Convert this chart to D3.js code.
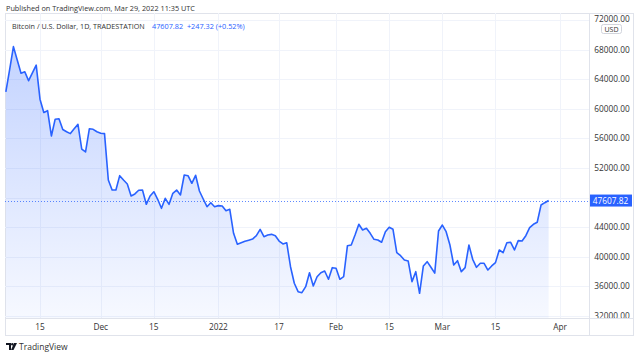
<!DOCTYPE html>
<html><head><meta charset="utf-8">
<script src="https://cdn.jsdelivr.net/npm/d3@7"></script>
<style>
html,body{margin:0;padding:0;background:#fff;}
svg{display:block;font-family:"Open Sans","Noto Sans",sans-serif;}
</style></head>
<body>
<svg id="chart" width="640" height="358"></svg>
<script>
// ---- data ----
const startDate = "2021-11-06";
const closes = [
  62300, 65300, 68400, 66600, 64800, 65000, 63800, 64850, 65900, 61300,
  59500, 59750, 56330, 58600, 58650, 57200, 56900, 56650, 57300, 57900,
  54570, 54170, 57300, 57230, 56900,           // Nov 6 - Nov 30
  56700, 56650, 50380, 49030, 49030, 50970, 50380, 49840, 48220, 48500,
  49000, 49030, 47100, 48220, 48800, 47780, 46560, 47910, 47100, 48590,
  49030, 48360, 51060, 50970, 49940, 51020, 48900, 47820, 46780, 47320,
  46780,                                       // Dec
  46920, 46870, 46240, 46420, 43180, 41700, 41910, 42100, 42250, 42400,
  42860, 43720, 42730, 42950, 43040, 42860, 42140, 41740, 41910, 38670,
  36430, 35300, 35160, 35970, 37860, 36060, 37320, 37860, 38090, 36970,
  38540,                                       // Jan
  38450, 36970, 37320, 41510, 41600, 42950, 44400, 43630, 43860, 43180,
  42370, 42280, 41970, 43400, 43990, 43720, 40560, 40160, 39580, 39440,
  36650, 38000, 35080, 38770, 39350, 38600, 37800, 43500, // Feb
  44300, 43400, 41600, 38900, 39480, 38000, 38540, 41600, 39670, 38590,
  39130, 39130, 38220, 38770, 39220, 40930, 40560, 41910, 41970, 40930,
  42190, 42140, 42860, 43940, 44400, 44670, 47000, 47320, 47607.82 // Mar
];
const yTicks = [32000, 36000, 40000, 44000, 48000, 52000, 56000, 60000, 64000, 68000, 72000];
const xTickDates = ["2021-11-15","2021-12-01","2021-12-15","2022-01-01","2022-01-17","2022-02-01","2022-02-15","2022-03-01","2022-03-15","2022-04-01"];
const xTickLabels = ["15","Dec","15","2022","17","Feb","15","Mar","15","Apr"];
const lastPrice = 47607.82;
const headerText = "Published on TradingView.com, Mar 29, 2022 11:35 UTC";
const legendText = "Bitcoin / U.S. Dollar, 1D, TRADESTATION";
const legendValue = "47607.82  +247.32 (+0.52%)";

// ---- build ----
const parse = d3.utcParse("%Y-%m-%d");
const t0 = parse(startDate);
const data = closes.map((v, i) => ({date: d3.utcDay.offset(t0, i), value: v}));

const svg = d3.select("#chart");
const frame = {left: 5, top: 13, right: 633, bottom: 335};
const plot = {left: 5, right: 589, top: 13, bottom: 318};
const blue = "#2962ff";

const x = d3.scaleUtc()
  .domain([parse("2021-11-15"), parse("2022-04-01")])
  .range([40, 560]);
const y = d3.scaleLinear()
  .domain([31740, 72946])
  .range([plot.bottom, plot.top]);

// header
svg.append("text").attr("x", 6).attr("y", 10.5).attr("font-size", 7.3).attr("fill", "#333").text(headerText);

// frame
svg.append("rect").attr("x", frame.left + 0.5).attr("y", frame.top + 0.5)
  .attr("width", frame.right - frame.left).attr("height", frame.bottom - frame.top)
  .attr("fill", "none").attr("stroke", "#e0e3eb");

const defs = svg.append("defs");
defs.append("clipPath").attr("id", "plotclip").append("rect")
  .attr("x", plot.left).attr("y", plot.top).attr("width", plot.right - plot.left).attr("height", plot.bottom - plot.top);
defs.append("clipPath").attr("id", "axisclip").append("rect")
  .attr("x", plot.right).attr("y", plot.top).attr("width", frame.right - plot.right).attr("height", plot.bottom - plot.top);
const grad = defs.append("linearGradient").attr("id", "fillgrad")
  .attr("gradientUnits", "userSpaceOnUse").attr("x1", 0).attr("x2", 0)
  .attr("y1", y(68400)).attr("y2", plot.bottom);
grad.append("stop").attr("offset", 0).attr("stop-color", blue).attr("stop-opacity", 0.28);
grad.append("stop").attr("offset", 1).attr("stop-color", blue).attr("stop-opacity", 0.04);

// grid
const grid = svg.append("g").attr("clip-path", "url(#plotclip)");
grid.selectAll("line.h").data(yTicks).join("line")
  .attr("x1", plot.left).attr("x2", plot.right)
  .attr("y1", d => Math.round(y(d)) + 0.5).attr("y2", d => Math.round(y(d)) + 0.5)
  .attr("stroke", "#f0f3fa");
grid.selectAll("line.v").data(xTickDates).join("line")
  .attr("x1", d => Math.round(x(parse(d))) + 0.5).attr("x2", d => Math.round(x(parse(d))) + 0.5)
  .attr("y1", plot.top).attr("y2", plot.bottom)
  .attr("stroke", "#f0f3fa");

// area + line
const g = svg.append("g").attr("clip-path", "url(#plotclip)");
g.append("path").datum(data)
  .attr("d", d3.area().x(d => x(d.date)).y0(plot.bottom).y1(d => y(d.value)))
  .attr("fill", "url(#fillgrad)");
g.append("path").datum(data)
  .attr("d", d3.line().x(d => x(d.date)).y(d => y(d.value)))
  .attr("fill", "none").attr("stroke", blue).attr("stroke-width", 1.6).attr("stroke-linejoin", "round");

// last price dotted line
g.append("line").attr("x1", plot.left).attr("x2", plot.right)
  .attr("y1", Math.round(y(lastPrice)) + 0.5).attr("y2", Math.round(y(lastPrice)) + 0.5)
  .attr("stroke", blue).attr("stroke-opacity", 0.75).attr("stroke-dasharray", "1,2");

// separators
svg.append("line").attr("x1", plot.right + 0.5).attr("x2", plot.right + 0.5)
  .attr("y1", frame.top).attr("y2", frame.bottom).attr("stroke", "#e0e3eb");
svg.append("line").attr("x1", frame.left).attr("x2", frame.right)
  .attr("y1", plot.bottom + 0.5).attr("y2", plot.bottom + 0.5).attr("stroke", "#e0e3eb");

// y axis labels (the one hidden under the last-price badge is not drawn)
const ya = svg.append("g").attr("clip-path", "url(#axisclip)");
ya.selectAll("text").data(yTicks.filter(d => Math.abs(y(d) - y(lastPrice)) > 9)).join("text")
  .attr("x", 612).attr("y", d => y(d) + (d === 72000 ? 1.5 : 3)).attr("text-anchor", "middle")
  .attr("font-size", 8.3).attr("fill", "#333")
  .text(d => d3.format(".2f")(d));

// USD badge
svg.append("rect").attr("x", 601.5).attr("y", 24.5).attr("width", 20).attr("height", 9).attr("rx", 2)
  .attr("fill", "#fff").attr("stroke", "#d1d4dc");
svg.append("text").attr("x", 611.5).attr("y", 31.6).attr("text-anchor", "middle")
  .attr("font-size", 7).attr("fill", "#333").text("USD");

// last price label
svg.append("rect").attr("x", plot.right + 1).attr("y", y(lastPrice) - 6).attr("width", 42).attr("height", 12)
  .attr("fill", blue);
svg.append("text").attr("x", 610.5).attr("y", y(lastPrice) + 3).attr("text-anchor", "middle")
  .attr("font-size", 8.3).attr("fill", "#fff").text(d3.format(".2f")(lastPrice));

// x axis labels
svg.append("g").selectAll("text").data(xTickDates).join("text")
  .attr("x", d => x(parse(d))).attr("y", 330).attr("text-anchor", "middle")
  .attr("font-size", 8.3).attr("fill", "#333")
  .text((d, i) => xTickLabels[i]);

// legend
svg.append("text").attr("x", 12).attr("y", 28.5).attr("font-size", 7.2).attr("fill", "#333").text(legendText);
svg.append("text").attr("x", 152).attr("y", 28.5).attr("font-size", 7.3).attr("fill", blue)
  .attr("xml:space", "preserve").style("white-space", "pre").text(legendValue);

// TradingView logo
const logo = svg.append("g").attr("transform", "translate(6,343)");
logo.append("path").attr("d", "M0,0 H5 V7 H3 V2 H0 Z").attr("fill", "#131722");
logo.append("circle").attr("cx", 6.3).attr("cy", 1.2).attr("r", 1.2).attr("fill", "#131722");
logo.append("path").attr("d", "M8,0 H11 L7.5,7 H5 Z").attr("fill", "#131722");
svg.append("text").attr("x", 19).attr("y", 350).attr("font-size", 8.5).attr("fill", "#333").text("TradingView");
</script>
</body></html>
